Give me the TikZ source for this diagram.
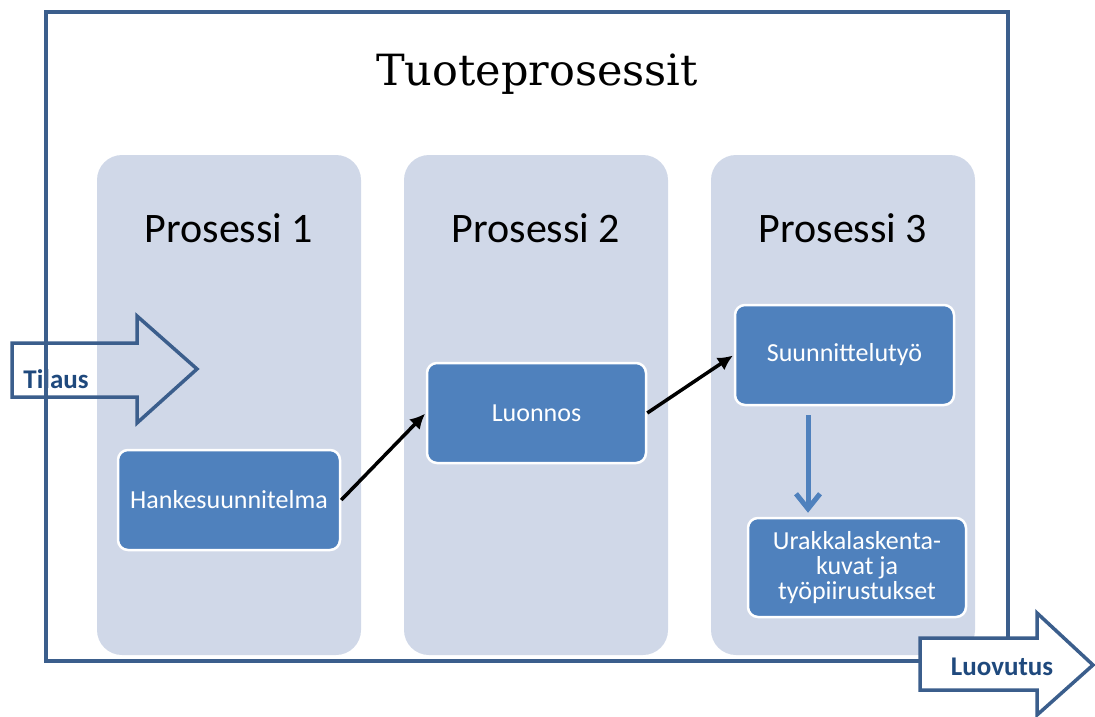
\documentclass[tikz,border=0pt]{standalone}
\usepackage{fontspec}
\setmainfont{Carlito}
\newfontfamily\titlefont{DejaVu Serif}
\usepackage{tikz}
\usetikzlibrary{arrows.meta}

\definecolor{framec}{RGB}{59,94,140}
\definecolor{panelc}{RGB}{208,216,232}
\definecolor{boxc}{RGB}{79,129,189}
\definecolor{labelc}{RGB}{31,73,125}

\begin{document}
\begin{tikzpicture}[x=1pt,y=-1pt]
  \tikzset{panel/.style = {fill=panelc, rounded corners=25pt, minimum width=264pt, minimum height=500pt, inner sep=0pt},
    phead/.style = {font=\fontsize{42}{48}\selectfont},
    box/.style = {fill=boxc, draw=white, line width=2.5pt, rounded corners=10pt, text=white, align=center,
      font=\fontsize{26}{25}\selectfont, inner sep=0pt},
    arr/.style = {line width=3.5pt, -{Latex[length=15pt,width=15pt]}, shorten >=1pt},
    downarr/.style = {draw=boxc, line width=5pt, -{Straight Barb[length=15pt,width=24pt,line width=5pt]}},
    blockarrow/.style = {draw=framec, line width=3.5pt, line join=miter},
    tag/.style = {text=labelc, font=\bfseries\fontsize{27}{30}\selectfont}}
  \useasboundingbox (0,0) rectangle (1095,717);

  \node[panel] (p1) at (229,405) {};
  \node[panel] (p2) at (536,405) {};
  \node[panel] (p3) at (843,405) {};
  \node[phead] (h1) at (229,228) {Prosessi 1};
  \node[phead] (h2) at (536,228) {Prosessi 2};
  \node[phead] (h3) at (843,228) {Prosessi 3};

  \node[tag] (tilaus) at (56,379) {Tilaus};
  \draw[framec, line width=3.5pt] (46,12) rectangle (1008,661);
  \node[font=\titlefont\fontsize{43}{48}\selectfont] (title) at (537,74) {Tuoteprosessit};

  % input arrow
  \draw[blockarrow] (12,343) -- (137,343) -- (137,316) -- (197,369) -- (137,423) -- (137,397) -- (12,397) -- cycle;

  \node[box, minimum width=222pt, minimum height=100pt] (hanke) at (229,500) {Hankesuunnitelma};
  \node[box, minimum width=219pt, minimum height=100pt] (luonnos) at (536.5,413) {Luonnos};
  \node[box, minimum width=219pt, minimum height=100pt] (suunn) at (844.5,355) {Suunnittelutyö};
  \node[box, minimum width=218pt, minimum height=99pt] (urakka) at (857,567.5) {Urakkalaskenta-\\kuvat ja\\työpiirustukset};

  \draw[arr] (hanke.east) -- (luonnos.west);
  \draw[arr] (luonnos.east) -- (suunn.west);
  \draw[downarr] ([xshift=-36.5pt,yshift=-9pt]suunn.south) -- ([xshift=-49pt,yshift=4pt]urakka.north);

  % output arrow
  \draw[blockarrow, fill=white] (920,638) -- (1037,638) -- (1037,613) -- (1093,665) -- (1037,715) -- (1037,690) -- (920,690) -- cycle;
  \node[tag] (luovutus) at (1002,667) {Luovutus};
\end{tikzpicture}
\end{document}
